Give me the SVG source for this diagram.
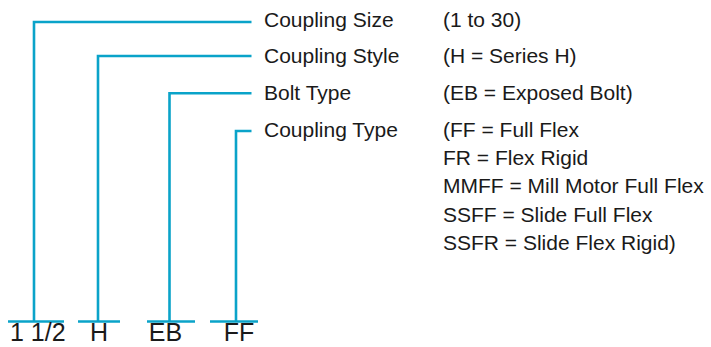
<svg xmlns="http://www.w3.org/2000/svg" width="711" height="347" viewBox="0 0 711 347">
<style>
.c{fill:none;stroke:#0aa3c9;stroke-width:2.6}
.t{font-family:"Liberation Sans",Arial,sans-serif;font-size:21px;fill:#1a1a1a}
.b{font-family:"Liberation Sans",Arial,sans-serif;font-size:25px;fill:#1a1a1a}
</style>
<rect width="711" height="347" fill="#fff"/>
<g id="connectors">
<polyline class="c" points="251.5,22 34,22 34,321.5"/>
<polyline class="c" points="251.5,56 98,56 98,321.5"/>
<polyline class="c" points="251.5,93.3 169.5,93.3 169.5,321.5"/>
<polyline class="c" points="251.5,131 236,131 236,321.5"/>
</g>
<g id="size">
<line class="c" x1="8" y1="321.5" x2="64" y2="321.5"/>
<text class="b" x="10" y="341.3">1 1/2</text>
<text class="t" x="264" y="26.5">Coupling Size</text>
<text class="t" x="443" y="26.5">(1 to 30)</text>
</g>
<g id="style">
<line class="c" x1="78" y1="321.5" x2="120" y2="321.5"/>
<text class="b" x="99" y="341.3" text-anchor="middle">H</text>
<text class="t" x="264" y="62.5">Coupling Style</text>
<text class="t" x="443" y="62.5">(H = Series H)</text>
</g>
<g id="bolt">
<line class="c" x1="147" y1="321.5" x2="195" y2="321.5"/>
<text class="b" x="165.5" y="341.3" text-anchor="middle">EB</text>
<text class="t" x="264" y="99.5">Bolt Type</text>
<text class="t" x="443" y="99.5">(EB = Exposed Bolt)</text>
</g>
<g id="type">
<line class="c" x1="210" y1="321.5" x2="258" y2="321.5"/>
<text class="b" x="239" y="341.3" text-anchor="middle">FF</text>
<text class="t" x="264" y="136.5">Coupling Type</text>
<text class="t" x="443" y="136.5">(FF = Full Flex</text>
<text class="t" x="443" y="164.8">FR = Flex Rigid</text>
<text class="t" x="443" y="193.2">MMFF = Mill Motor Full Flex</text>
<text class="t" x="443" y="221.6">SSFF = Slide Full Flex</text>
<text class="t" x="443" y="250">SSFR = Slide Flex Rigid)</text>
</g>
</svg>
